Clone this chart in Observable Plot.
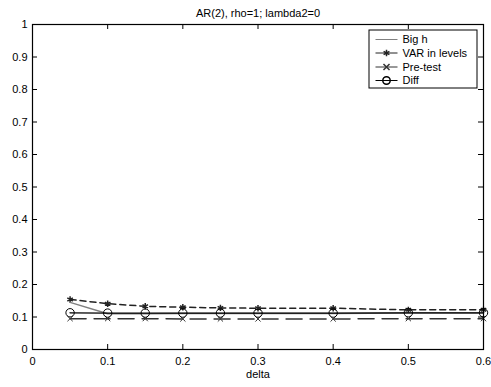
<!DOCTYPE html>
<html><head><meta charset="utf-8">
<script src="https://cdn.jsdelivr.net/npm/d3@7"></script>
<script src="https://cdn.jsdelivr.net/npm/@observablehq/plot@0.6"></script>
<style>body{margin:0;background:#fff}</style>
</head><body><div id="chart"></div>
<script>
const delta = [0.05, 0.1, 0.15, 0.2, 0.25, 0.3, 0.4, 0.5, 0.6];
const bigH = [0.145, 0.110, 0.110, 0.111, 0.111, 0.111, 0.111, 0.112, 0.112];
const varLevels = [0.154, 0.141, 0.133, 0.130, 0.128, 0.127, 0.127, 0.122, 0.122];
const preTest = [0.095, 0.095, 0.095, 0.094, 0.094, 0.094, 0.094, 0.095, 0.095];
const diffV = [0.113, 0.112, 0.112, 0.112, 0.112, 0.112, 0.112, 0.113, 0.113];
const seriesNames = ["Big h", "VAR in levels", "Pre-test", "Diff"];
const xTicks = [0, 0.1, 0.2, 0.3, 0.4, 0.5, 0.6];
const yTicks = [0, 0.1, 0.2, 0.3, 0.4, 0.5, 0.6, 0.7, 0.8, 0.9, 1];
const title = "AR(2), rho=1; lambda2=0";
const xLabel = "delta";

const W = 491, H = 387, mL = 32, mR = 8, mT = 24, mB = 38;
const pw = W - mL - mR, ph = H - mT - mB;
const xpx = p => (p - mL) / pw * 0.6;
const ypx = p => (H - mB - p) / ph;

const rows = (vals) => delta.map((d, i) => ({x: d, y: vals[i]}));
const dBig = rows(bigH), dVar = rows(varLevels), dPre = rows(preTest), dDiff = rows(diffV);

const styles = [
  {stroke: "#808080", dash: null, symbol: null, r: 0},
  {stroke: "#222", dash: "6,4", symbol: "asterisk", r: 3},
  {stroke: "#333", dash: "16,8", symbol: "times", r: 2.5},
  {stroke: "#000", dash: null, symbol: "circle", r: 4.2}
];
const legendRowsPx = [39, 52.5, 66.5, 80];
const legend = seriesNames.map((n, i) => ({name: n, y: ypx(legendRowsPx[i]), i}));
const lx1 = xpx(375), lx2 = xpx(397), lxm = xpx(386), ltx = xpx(402);

const chart = Plot.plot({
  width: W, height: H,
  marginLeft: mL, marginRight: mR, marginTop: mT, marginBottom: mB,
  x: {domain: [0, 0.6], label: null},
  y: {domain: [0, 1], label: null},
  style: {fontFamily: "Liberation Sans, Arial, sans-serif", fontSize: "11px", background: "white", color: "black"},
  marks: [
    Plot.axisX(xTicks, {tickSize: 0, tickPadding: 8, tickFormat: d => String(d), fontSize: 11}),
    Plot.axisY(yTicks, {tickSize: 0, tickPadding: 5, tickFormat: d => String(d), fontSize: 11}),
    Plot.tickX(xTicks, {x: d => d, insetTop: ph - 5, stroke: "black"}),
    Plot.tickX(xTicks, {x: d => d, insetBottom: ph - 5, stroke: "black"}),
    Plot.tickY(yTicks, {y: d => d, insetRight: pw - 5, stroke: "black"}),
    Plot.tickY(yTicks, {y: d => d, insetLeft: pw - 5, stroke: "black"}),
    // series
    Plot.line(dPre, {x: "x", y: "y", stroke: styles[2].stroke, strokeDasharray: styles[2].dash}),
    Plot.dot(dPre, {x: "x", y: "y", symbol: "times", r: styles[2].r, stroke: styles[2].stroke, strokeWidth: 1}),
    Plot.line(dVar, {x: "x", y: "y", stroke: styles[1].stroke, strokeDasharray: styles[1].dash}),
    Plot.dot(dVar, {x: "x", y: "y", symbol: "asterisk", r: styles[1].r, stroke: styles[1].stroke, strokeWidth: 1.5}),
    Plot.line(dBig, {x: "x", y: "y", stroke: styles[0].stroke}),
    Plot.line(dDiff, {x: "x", y: "y", stroke: styles[3].stroke, strokeWidth: 1.3}),
    Plot.dot(dDiff, {x: "x", y: "y", symbol: "circle", r: styles[3].r, stroke: "black", fill: "none", strokeWidth: 1}),
    // frame
    Plot.frame({stroke: "black", strokeWidth: 1.2}),
    // legend
    Plot.rect([0], {x1: () => xpx(369), x2: () => xpx(477), y1: () => ypx(30), y2: () => ypx(88), fill: "white", stroke: "black", strokeWidth: 1}),
    Plot.link(legend, {x1: lx1, x2: lx2, y1: "y", y2: "y", stroke: d => styles[d.i].stroke}),
    Plot.dot(legend.filter(d => styles[d.i].symbol), {x: lxm, y: "y", symbol: d => styles[d.i].symbol, r: d => styles[d.i].r, stroke: d => styles[d.i].stroke, fill: "none"}),
    Plot.text(legend, {x: ltx, y: "y", text: "name", textAnchor: "start", fontSize: 11}),
    // title and x label
    Plot.text([title], {frameAnchor: "top", dy: -15, fontSize: 11, text: d => d}),
    Plot.text([xLabel], {frameAnchor: "bottom", dy: 28, fontSize: 11, text: d => d})
  ]
});
document.getElementById("chart").append(chart);
</script>
</body></html>
